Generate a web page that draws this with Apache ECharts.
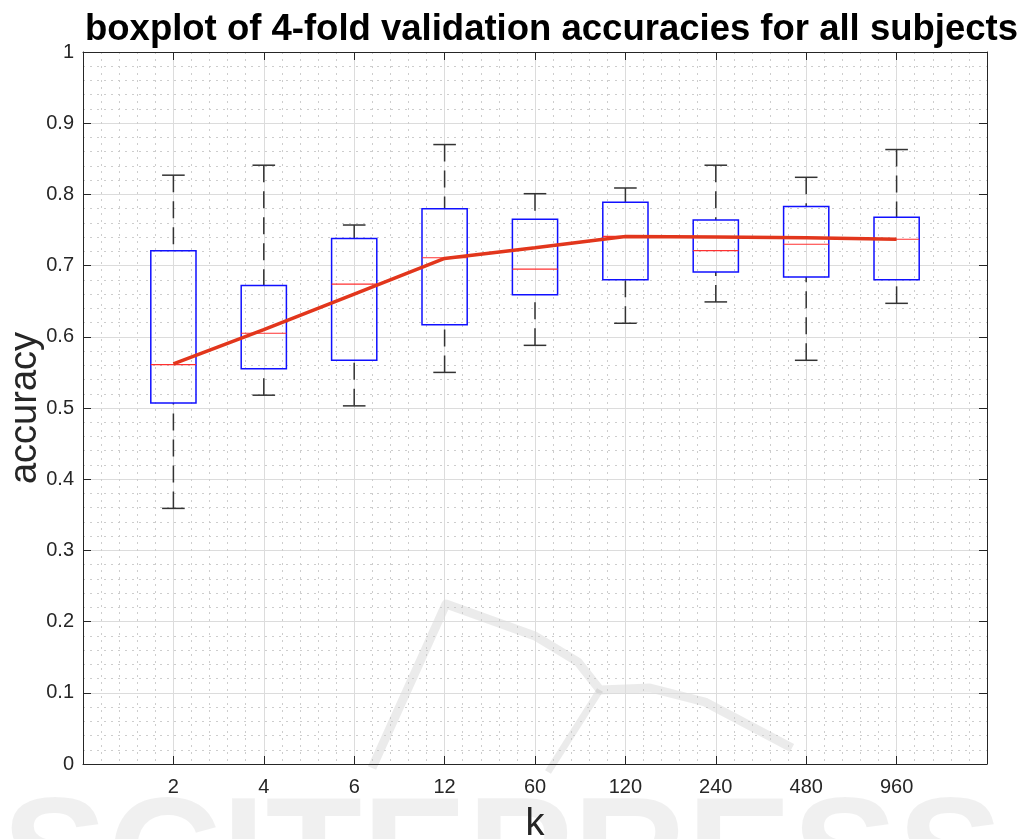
<!DOCTYPE html>
<html>
<head>
<meta charset="utf-8">
<script src="https://cdn.jsdelivr.net/npm/echarts@6/dist/echarts.min.js"></script>
<style>
  html, body { margin: 0; padding: 0; background: #fff; }
  #chart { width: 1019px; height: 839px; }
</style>
</head>
<body>
<div id="chart"></div>
<script>
// k values on the x axis (placed at positions 1..9)
const kLabels = ["2", "4", "6", "12", "60", "120", "240", "480", "960"];
// box statistics per k
const whiskerLow = [0.359, 0.518, 0.503, 0.550, 0.588, 0.619, 0.649, 0.567, 0.647];
const q1 = [0.507, 0.555, 0.567, 0.617, 0.659, 0.680, 0.691, 0.684, 0.680];
const median = [0.561, 0.605, 0.674, 0.711, 0.695, 0.741, 0.721, 0.730, 0.737];
const q3 = [0.721, 0.672, 0.738, 0.780, 0.765, 0.789, 0.764, 0.783, 0.768];
const whiskerHigh = [0.827, 0.841, 0.757, 0.870, 0.801, 0.809, 0.841, 0.824, 0.863];
// thick red trend line
const meanLine = [0.562, 0.610, 0.660, 0.710, 0.725, 0.741, 0.740, 0.739, 0.737];

const FONT = "Liberation Sans";
const AXIS_COLOR = "#262626";

const boxData = kLabels.map((k, i) => [i + 1, whiskerLow[i], q1[i], median[i], q3[i], whiskerHigh[i]]);
const lineData = kLabels.map((k, i) => [i + 1, meanLine[i]]);

const chart = echarts.init(document.getElementById("chart"));

function renderBox(params, api) {
  const x = api.value(0);
  const pMin = api.coord([x, api.value(1)]);
  const pQ1 = api.coord([x, api.value(2)]);
  const pMed = api.coord([x, api.value(3)]);
  const pQ3 = api.coord([x, api.value(4)]);
  const pMax = api.coord([x, api.value(5)]);
  const boxW = api.size([1, 0])[0] * 0.5;
  const capW = boxW * 0.5;
  const cx = pMed[0];
  const whisker = { stroke: "#333", lineWidth: 1.5, lineDash: [17, 9] };
  const cap = { stroke: "#333", lineWidth: 1.5 };
  return {
    type: "group",
    children: [
      { type: "line", shape: { x1: cx, y1: pMax[1], x2: cx, y2: pQ3[1] }, style: whisker },
      { type: "line", shape: { x1: cx, y1: pMin[1], x2: cx, y2: pQ1[1] }, style: whisker },
      { type: "line", shape: { x1: cx - capW / 2, y1: pMax[1], x2: cx + capW / 2, y2: pMax[1] }, style: cap },
      { type: "line", shape: { x1: cx - capW / 2, y1: pMin[1], x2: cx + capW / 2, y2: pMin[1] }, style: cap },
      {
        type: "rect",
        shape: { x: cx - boxW / 2, y: pQ3[1], width: boxW, height: pQ1[1] - pQ3[1] },
        style: { fill: "none", stroke: "#1010ff", lineWidth: 1.5 },
      },
      {
        type: "line",
        shape: { x1: cx - boxW / 2, y1: pMed[1], x2: cx + boxW / 2, y2: pMed[1] },
        style: { stroke: "#ff3030", lineWidth: 1.2 },
      },
    ],
  };
}

const tickStyle = { show: true, inside: true, length: 8, lineStyle: { color: AXIS_COLOR, width: 1 } };
const lineStyleAxis = { show: true, onZero: false, lineStyle: { color: AXIS_COLOR, width: 1 } };
const majorGrid = { show: true, lineStyle: { color: "#dcdcdc", width: 1 } };
const minorGrid = { show: true, lineStyle: { color: "#cdcdcd", width: 1, type: [2, 5] } };

const option = {
  backgroundColor: "#fff",
  animation: false,
  title: {
    text: "boxplot of 4-fold validation accuracies for all subjects",
    left: 80,
    top: 6,
    textStyle: { fontFamily: FONT, fontSize: 36.5, fontWeight: "bold", color: "#000" },
  },
  grid: { left: 83, right: 32, top: 52, bottom: 75, containLabel: false, outerBoundsMode: "none" },
  xAxis: [
    {
      type: "value",
      position: "bottom",
      min: 0,
      max: 10,
      interval: 1,
      axisLine: lineStyleAxis,
      axisTick: tickStyle,
      axisLabel: {
        color: AXIS_COLOR,
        fontFamily: FONT,
        fontSize: 20,
        margin: 13,
        formatter: (v) => kLabels[v - 1] || "",
      },
      splitLine: majorGrid,
      minorTick: { show: false, splitNumber: 5 },
      minorSplitLine: minorGrid,
      name: "k",
      nameLocation: "middle",
      nameGap: 42,
      nameMoveOverlap: false,
      nameTextStyle: { fontFamily: FONT, fontSize: 38, color: AXIS_COLOR },
    },
    {
      type: "value",
      position: "top",
      min: 0,
      max: 10,
      interval: 1,
      axisLine: lineStyleAxis,
      axisTick: tickStyle,
      axisLabel: { show: false },
      splitLine: { show: false },
    },
  ],
  yAxis: [
    {
      type: "value",
      position: "left",
      min: 0,
      max: 1,
      interval: 0.1,
      axisLine: lineStyleAxis,
      axisTick: tickStyle,
      axisLabel: { color: AXIS_COLOR, fontFamily: FONT, fontSize: 20, margin: 9 },
      splitLine: majorGrid,
      minorTick: { show: false, splitNumber: 5 },
      minorSplitLine: minorGrid,
      name: "accuracy",
      nameLocation: "middle",
      nameGap: 38,
      nameMoveOverlap: false,
      nameTextStyle: { fontFamily: FONT, fontSize: 38, color: AXIS_COLOR },
    },
    {
      type: "value",
      position: "right",
      min: 0,
      max: 1,
      interval: 0.1,
      axisLine: lineStyleAxis,
      axisTick: tickStyle,
      axisLabel: { show: false },
      splitLine: { show: false },
    },
  ],
  series: [
    {
      type: "custom",
      renderItem: renderBox,
      encode: { x: 0, y: [1, 2, 3, 4, 5] },
      data: boxData,
      z: 3,
    },
    {
      type: "line",
      data: lineData,
      symbol: "none",
      lineStyle: { color: "#e2361c", width: 3.5 },
      z: 4,
    },
  ],
  graphic: [
    {
      type: "text",
      silent: true,
      z: 0,
      style: {
        x: 2,
        y: 784,
        text: "SCITEPRESS",
        font: 'bold 158px "Liberation Sans"',
        fill: "rgba(0,0,0,0.06)",
      },
    },
    {
      type: "polyline",
      silent: true,
      z: 0,
      shape: {
        points: [[372, 768], [446, 604], [535, 636], [578, 662], [600, 690], [650, 688], [705, 702], [792, 748]],
      },
      style: { stroke: "rgba(0,0,0,0.08)", lineWidth: 9, fill: "none", lineJoin: "round" },
    },
    {
      type: "polyline",
      silent: true,
      z: 0,
      shape: { points: [[600, 690], [548, 772]] },
      style: { stroke: "rgba(0,0,0,0.08)", lineWidth: 7, fill: "none" },
    },
  ],
};

chart.setOption(option);
</script>
</body>
</html>
